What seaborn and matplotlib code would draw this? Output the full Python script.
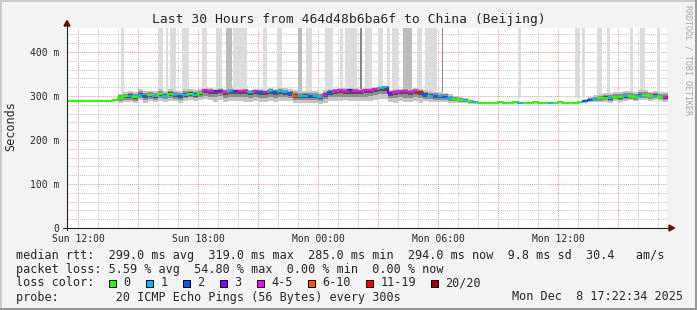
import numpy as np
import pandas as pd
import matplotlib
matplotlib.use("Agg")
import matplotlib.pyplot as plt
import seaborn as sns
from matplotlib.patches import Rectangle, Polygon
from matplotlib.lines import Line2D
from matplotlib.collections import LineCollection

# ---------------- data ----------------
sample_start_h = 11.5      # hours after Sun 00:00
sample_step_h = 0.25       # 15-minute bins

median_ms = [
    289, 289, 289, 289, 289, 289, 289, 289, 289, 290,
    296, 299, 301, 298, 303, 300, 302, 299, 304, 301, 305, 302, 300, 303, 305, 303, 306,
    313, 312, 311, 312, 310, 312, 311, 311, 312, 309, 311, 310, 308,
    311, 310, 311, 309, 306, 301, 300, 301, 299, 300, 298, 303,
    309, 312, 313, 312, 313, 312, 311, 313, 314, 315, 319, 320, 307, 309, 311, 311, 310, 311, 309,
    303, 301, 300, 299, 298, 296, 294, 292, 290, 288, 286, 285, 285, 285,
    285, 286, 285, 285, 286, 285, 285, 285, 286, 285, 285, 285, 285, 286, 285, 285, 285, 286,
    289, 292, 294, 295, 296, 295, 298, 297, 299, 300, 298, 301, 302, 300, 301, 298, 297, 296,
]
loss_level = [
    0, 0, 0, 0, 0, 0, 0, 0, 0, 0,
    0, 0, 1, 0, 1, 2, 0, 1, 0, 1, 0, 1, 2, 1, 0, 1, 0,
    4, 4, 3, 3, 4, 1, 3, 4, 4, 1, 4, 2, 4,
    1, 2, 1, 1, 2, 5, 1, 1, 2, 1, 1, 4,
    2, 4, 4, 4, 3, 4, 4, 4, 4, 4, 1, 1, 3, 4, 4, 4, 4, 4, 6,
    2, 1, 2, 1, 2, 1, 0, 0, 1, 0, 1, 0, 0, 0,
    0, 0, 0, 0, 0, 1, 0, 0, 0, 0, 0, 1, 0, 0, 0, 0, 0, 0,
    2, 2, 1, 0, 0, 1, 0, 0, 1, 0, 0, 1, 0, 0, 1, 0, 4, 0,
]
smoke_up_ms = [
    1, 1, 1, 1, 1, 1, 1, 1, 1, 1,
    9, 10, 11, 10, 12, 11, 10, 12, 11, 10, 12, 10, 11, 12, 11, 10, 9,
    5, 6, 5, 6, 5, 6, 5, 6, 5, 5, 6, 5, 6,
    7, 6, 8, 9, 10, 12, 11, 10, 12, 11, 9, 10,
    6, 5, 5, 6, 5, 6, 5, 6, 5, 5, 4, 3, 7, 6, 6, 7, 6, 7, 7,
    10, 11, 10, 9, 9, 8, 7, 6, 5, 4, 3, 2, 2, 2,
    1, 1, 1, 1, 1, 1, 1, 1, 1, 1, 1, 1, 1, 1, 1, 1, 1, 1,
    4, 6, 8, 9, 10, 11, 10, 11, 12, 11, 10, 12, 11, 10, 11, 10, 11, 10,
]
smoke_down_ms = [
    1, 1, 1, 1, 1, 1, 1, 1, 1, 1,
    12, 13, 15, 14, 13, 16, 14, 13, 15, 14, 16, 14, 15, 14, 13, 14, 15,
    20, 22, 24, 21, 23, 24, 22, 23, 25, 22, 23, 24, 22,
    22, 24, 23, 20, 17, 16, 17, 16, 15, 17, 16, 18,
    20, 23, 24, 22, 25, 23, 22, 24, 25, 23, 26, 27, 20, 24, 23, 25, 24, 23, 24,
    15, 14, 14, 13, 12, 11, 10, 8, 7, 6, 5, 4, 3, 2,
    1, 1, 1, 1, 1, 1, 1, 1, 1, 1, 1, 1, 1, 1, 1, 1, 1, 1,
    4, 6, 8, 9, 10, 10, 9, 10, 11, 10, 10, 9, 10, 11, 10, 9, 10, 10,
]

# tall "off the chart" ping columns
spike_start_h = [14.13, 15.98, 16.38, 16.58, 17.18, 18.18, 18.88, 19.38, 19.73, 21.23,
                 21.93, 22.98, 23.38, 24.33, 25.08, 25.33, 26.08, 26.33, 26.98, 27.43,
                 27.68, 28.23, 28.93, 29.33, 30.18, 33.98, 36.83, 37.18, 37.93, 38.43,
                 39.58, 40.08, 40.93]
spike_end_h = [14.28, 16.23, 16.48, 16.88, 17.53, 18.43, 19.18, 19.68, 20.43, 21.43,
               22.18, 23.18, 23.68, 24.73, 25.23, 25.93, 26.18, 26.68, 27.23, 27.58,
               27.98, 28.68, 29.18, 29.93, 30.23, 34.13, 37.08, 37.33, 38.18, 38.58,
               39.73, 40.33, 41.08]
spike_shade = ["l", "l", "l", "l", "l", "l", "l", "m", "l", "l",
               "l", "m", "l", "l", "l", "l", "d", "l", "l", "l",
               "l", "m", "l", "l", "d", "l", "l", "l", "l", "l",
               "l", "l", "l"]

loss_labels = ["0", "1", "2", "3", "4-5", "6-10", "11-19", "20/20"]
loss_colors = ["#26ff00", "#00b8ff", "#0059ff", "#7e00ff", "#ff00ff",
               "#ff5500", "#ff0000", "#a10000"]

xtick_hours = [12, 18, 24, 30, 36]
xtick_labels = ["Sun 12:00", "Sun 18:00", "Mon 00:00", "Mon 06:00", "Mon 12:00"]
ytick_ms = [0, 100, 200, 300, 400]
ytick_labels = ["0", "100 m", "200 m", "300 m", "400 m"]

title = "Last 30 Hours from 464d48b6ba6f to China (Beijing)"
legend_rtt = "median rtt:  299.0 ms avg  319.0 ms max  285.0 ms min  294.0 ms now  9.8 ms sd  30.4   am/s"
legend_loss = "packet loss: 5.59 % avg  54.80 % max  0.00 % min  0.00 % now"
legend_probe = "probe:        20 ICMP Echo Pings (56 Bytes) every 300s"
stamp = "Mon Dec  8 17:22:34 2025"
watermark = "RRDTOOL / TOBI OETIKER"

# ---------------- layout ----------------
W, H = 697, 310
X0, X1 = 11.43, 41.43
Y0, Y1 = 0.0, 454.5
BG = "#f3f3f3"


def fx(x):
    return x / W


def fy(y):
    return 1 - y / H


sns.set_style("white")
plt.rcParams["font.family"] = ["DejaVu Sans Mono"]

fig = plt.figure(figsize=(W / 100, H / 100), dpi=100, facecolor=BG)
ax = fig.add_axes([fx(67), fy(228), 600 / W, 200 / H])
ax.set_facecolor("white")

n = len(median_ms)
hours = sample_start_h + sample_step_h * np.arange(n)
df = pd.DataFrame({"hour": hours, "median": median_ms, "loss": loss_level,
                   "up": smoke_up_ms, "down": smoke_down_ms})

# tall columns
shade_map = {"l": "#dcdcdc", "m": "#bcbcbc", "d": "#8a8a8a"}
sp_start = np.array(spike_start_h)
sp_end = np.array(spike_end_h)
ax.bar(sp_start, Y1 - 295, bottom=295, width=sp_end - sp_start, align="edge",
       color=[shade_map[s] for s in spike_shade], linewidth=0, zorder=1)

# smoke (step-wise)
edges = np.append(df["hour"].values, df["hour"].values[-1] + sample_step_h)
med = df["median"].values.astype(float)
up = df["up"].values.astype(float)
dn = df["down"].values.astype(float)
ext = lambda a: np.append(a, a[-1])
for frac, col in [(1.0, "#c6c6c6"), (0.6, "#8e8e8e"), (0.3, "#505050")]:
    ax.fill_between(edges, ext(med - dn * frac), ext(med + up * frac),
                    step="post", color=col, linewidth=0, zorder=2)

# median line
sns.lineplot(data=df, x="hour", y="median", drawstyle="steps-post",
             color=loss_colors[0], linewidth=1.5, ax=ax, zorder=3, legend=False)
segs, cols = [], []
for i in range(n):
    prev = med[i - 1] if i > 0 else med[i]
    segs.append([(edges[i], prev), (edges[i], med[i]), (edges[i + 1], med[i])])
    cols.append(loss_colors[df["loss"].values[i]])
ax.add_collection(LineCollection(segs, colors=cols, linewidths=1.5, zorder=4,
                                 capstyle="butt", joinstyle="miter"))

ax.set_xlim(X0, X1)
ax.set_ylim(Y0, Y1)
ax.set_xlabel("")
ax.set_ylabel("")

# ticks / grid
ax.set_xticks(np.arange(12, 42, 3))
ax.set_xticklabels([xtick_labels[xtick_hours.index(h)] if h in xtick_hours else ""
                    for h in np.arange(12, 42, 3)])
ax.set_xticks(np.arange(12, 42, 1), minor=True)
ax.set_yticks(ytick_ms)
ax.set_yticklabels(ytick_labels)
ax.set_yticks(np.arange(0, 455, 20), minor=True)
ax.tick_params(axis="x", which="major", length=2, width=0.7, color="#e07070",
               pad=2.5, labelsize=7)
ax.tick_params(axis="x", which="minor", length=1.5, width=0.7, color="#b0b0b0")
ax.tick_params(axis="y", which="major", length=2, width=0.7, color="#333333",
               pad=3.5, labelsize=7)
ax.tick_params(axis="y", which="minor", length=0)
ax.grid(which="minor", color="#c8c8c8", linestyle=(0, (1, 1)), linewidth=0.75)
ax.grid(which="major", color="#f29a9a", linestyle=(0, (1, 1)), linewidth=0.75)
ax.set_axisbelow(True)
for s in ax.spines.values():
    s.set_visible(False)

# axes lines + arrows
fig.add_artist(Line2D([fx(67), fx(67)], [fy(230), fy(24)], color="#222222", lw=0.8))
fig.add_artist(Line2D([fx(63), fx(670)], [fy(228), fy(228)], color="#222222", lw=0.8))
fig.add_artist(Polygon([(fx(64), fy(26)), (fx(70), fy(26)), (fx(67), fy(20.5))],
                       closed=True, color="#7f0000", transform=fig.transFigure))
fig.add_artist(Polygon([(fx(669), fy(225)), (fx(669), fy(231)), (fx(674.5), fy(228))],
                       closed=True, color="#7f0000", transform=fig.transFigure))

# frame shading
fig.add_artist(Rectangle((0, fy(2)), 1, 2 / H, color="#cbcbcb", transform=fig.transFigure, lw=0))
fig.add_artist(Rectangle((0, 0), 2 / W, 1, color="#cbcbcb", transform=fig.transFigure, lw=0))
fig.add_artist(Rectangle((0, 0), 1, 2 / H, color="#999999", transform=fig.transFigure, lw=0))
fig.add_artist(Rectangle((fx(695), 0), 2 / W, 1, color="#999999", transform=fig.transFigure, lw=0))

# texts
fig.text(0.5, fy(23.3), title, ha="center", va="baseline", fontsize=9.4)
fig.text(fx(10.5), fy(126), "Seconds", rotation=90, ha="center", va="center", fontsize=8.5)
fig.text(fx(688), fy(5), watermark, rotation=270, ha="center", va="top",
         fontsize=6, color="#a8a8a8")

LFS = 8.5
fig.text(fx(16), fy(258.5), legend_rtt, ha="left", va="baseline", fontsize=LFS)
fig.text(fx(16), fy(272.5), legend_loss, ha="left", va="baseline", fontsize=LFS)
fig.text(fx(16), fy(286.5), "loss color:", ha="left", va="baseline", fontsize=LFS)
swatch_x = [109, 146, 183, 219.5, 256.5, 307.5, 366, 431]
for sx, lab, col in zip(swatch_x, loss_labels, loss_colors):
    fig.add_artist(Rectangle((fx(sx), fy(287)), 7 / W, 7.5 / H, facecolor=col,
                             edgecolor="black", lw=0.7, transform=fig.transFigure))
    fig.text(fx(sx + 14.5), fy(286.5), lab, ha="left", va="baseline", fontsize=LFS)
fig.text(fx(16), fy(300.5), legend_probe, ha="left", va="baseline", fontsize=LFS)
fig.text(fx(683), fy(300.5), stamp, ha="right", va="baseline", fontsize=LFS)

fig.savefig("out.png", dpi=100, facecolor=BG)
